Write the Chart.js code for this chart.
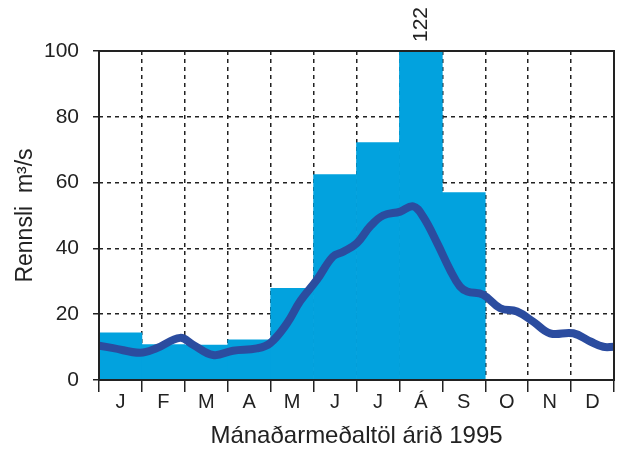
<!DOCTYPE html>
<html>
<head>
<meta charset="utf-8">
<script src="https://cdn.jsdelivr.net/npm/chart.js@4/dist/chart.umd.min.js"></script>
<style>
  html, body { margin: 0; padding: 0; background: #fff; }
  #wrap { width: 624px; height: 452px; }
</style>
</head>
<body>
<div id="wrap"><canvas id="myChart" width="624" height="452"></canvas></div>
<script>
// Monthly labels (Icelandic)
const months = ['J', 'F', 'M', 'A', 'M', 'J', 'J', 'Á', 'S', 'O', 'N', 'D'];
// Monthly mean flow 1995 (bars), m3/s
const flow1995 = [14.3, 10.8, 10.6, 12.2, 27.9, 62.4, 72.2, 122, 57.0, null, null, null];
// Long-term curve, position in months (0..12) and value
const curveX = [0, 0.33, 0.96, 1.35, 1.89, 2.19, 2.66, 3.12, 3.68, 3.99, 4.38, 4.69, 5.08, 5.45, 5.69, 6.01, 6.32, 6.62, 7.02, 7.32, 7.55, 7.88, 8.18, 8.41, 8.58, 8.95, 9.35, 9.74, 10.12, 10.51, 11.05, 11.45, 11.75, 12];
const curveY = [10.4, 9.7, 8.3, 9.7, 12.8, 10.7, 7.6, 8.9, 9.6, 11.2, 17.2, 24.0, 30.5, 37.5, 39.0, 41.6, 46.7, 50.0, 51.2, 52.8, 49.7, 41.6, 33.5, 28.4, 26.9, 25.9, 21.8, 20.8, 17.7, 14.2, 14.2, 11.7, 10.1, 10.1];
const yTicks = [0, 20, 40, 60, 80, 100];

const barColor = '#02a2de';
const lineColor = '#2b4c9f';
const fontFamily = '"Liberation Sans", Arial, Helvetica, sans-serif';

// Frame around the plot + value label for bars above the axis max
const framePlugin = {
    id: 'frame',
    afterDraw(chart) {
        const ctx = chart.ctx;
        const a = chart.chartArea;
        ctx.save();
        ctx.strokeStyle = '#222';
        ctx.lineWidth = 2;
        ctx.setLineDash([]);
        ctx.strokeRect(a.left, a.top, a.right - a.left, a.bottom - a.top);

        // over-range values written above the bar
        const yMax = chart.scales.y.max;
        const meta = chart.getDatasetMeta(1);
        flow1995.forEach((v, i) => {
            if (v !== null && v > yMax) {
                const bar = meta.data[i];
                ctx.save();
                ctx.translate(bar.x, a.top - 9);
                ctx.rotate(-Math.PI / 2);
                ctx.fillStyle = '#222';
                ctx.font = '21px ' + fontFamily;
                ctx.textAlign = 'left';
                ctx.textBaseline = 'middle';
                ctx.fillText(String(v), 0, 0);
                ctx.restore();
            }
        });
        ctx.restore();
    }
};

const ctx = document.getElementById('myChart').getContext('2d');
const myChart = new Chart(ctx, {
    type: 'bar',
    data: {
        labels: months,
        datasets: [
            {
                type: 'line',
                label: 'Meðalrennsli',
                data: curveX.map((x, i) => ({ x: x, y: curveY[i] })),
                xAxisID: 'x2',
                borderColor: lineColor,
                borderWidth: 8,
                pointRadius: 0,
                tension: 0.4,
                borderCapStyle: 'round',
                borderJoinStyle: 'round',
                fill: false,
                order: 0
            },
            {
                type: 'bar',
                label: '1995',
                data: flow1995,
                xAxisID: 'x',
                backgroundColor: barColor,
                borderWidth: 0,
                barPercentage: 1,
                categoryPercentage: 1,
                grouped: false,
                order: 1
            }
        ]
    },
    options: {
        responsive: false,
        animation: false,
        layout: { padding: { top: 51, right: 10, left: 0, bottom: 0 } },
        plugins: {
            legend: { display: false },
            tooltip: { enabled: false }
        },
        scales: {
            x: {
                type: 'category',
                offset: true,
                grid: {
                    offset: true,
                    color: '#222',
                    lineWidth: 1.5,
                    tickLength: 12,
                    tickColor: '#222',
                    tickWidth: 1.5,
                    tickBorderDash: [0, 0]
                },
                border: { display: false, dash: [4, 4] },
                ticks: {
                    color: '#222',
                    padding: -2,
                    maxRotation: 0,
                    font: { family: fontFamily, size: 20 }
                },
                title: {
                    display: true,
                    text: 'Mánaðarmeðaltöl árið 1995',
                    color: '#222',
                    font: { family: fontFamily, size: 24 },
                    padding: { top: 6, bottom: 1 }
                },
                afterFit(scale) { scale.height = 72; }
            },
            x2: {
                type: 'linear',
                display: false,
                offset: false,
                grid: { offset: false },
                min: 0,
                max: 12
            },
            y: {
                min: 0,
                max: 100,
                afterBuildTicks(scale) {
                    scale.ticks = yTicks.map(v => ({ value: v }));
                },
                grid: {
                    color: '#222',
                    lineWidth: 1.5,
                    tickLength: 6,
                    tickColor: '#222'
                },
                border: { display: false, dash: [4, 4] },
                ticks: {
                    color: '#222',
                    padding: 14,
                    font: { family: fontFamily, size: 21 }
                },
                title: {
                    display: true,
                    text: 'Rennsli  m³/s',
                    color: '#222',
                    font: { family: fontFamily, size: 23 },
                    padding: { top: 12, bottom: 0 }
                },
                afterFit(scale) { scale.width = 99; }
            }
        }
    },
    plugins: [framePlugin]
});
</script>
</body>
</html>
